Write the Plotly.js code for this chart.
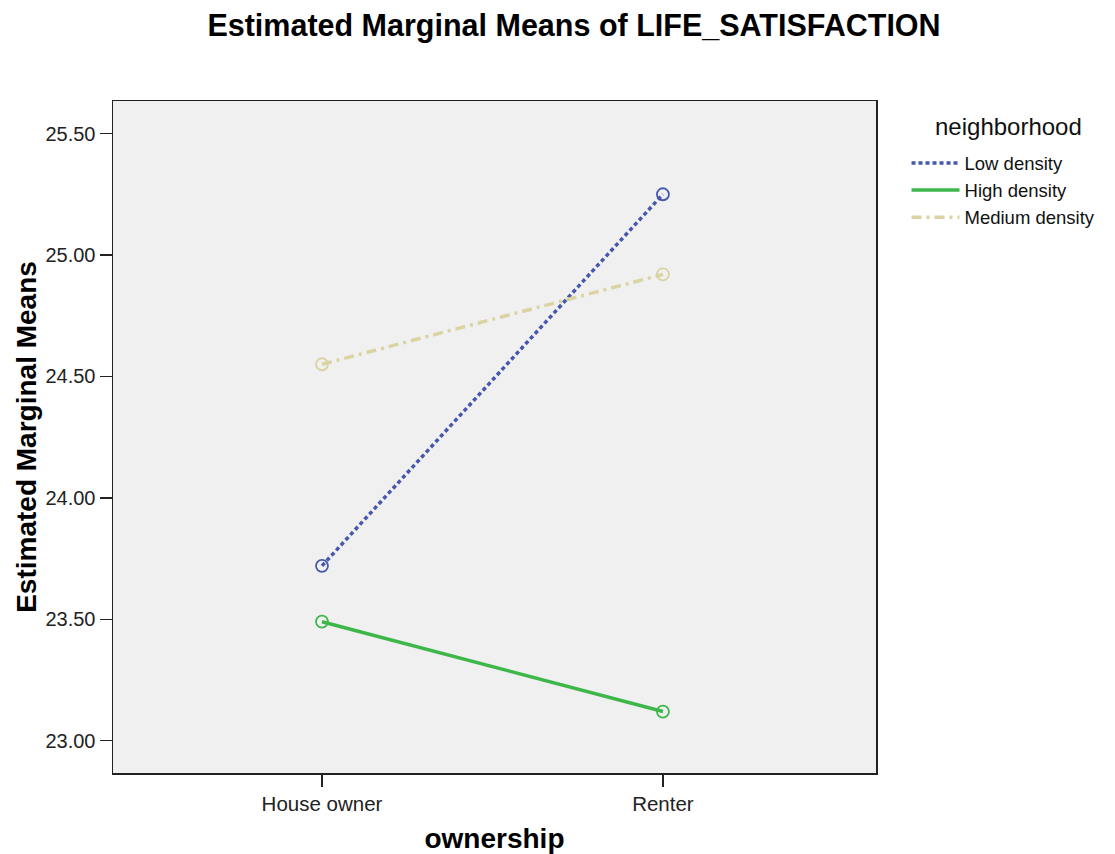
<!DOCTYPE html>
<html>
<head>
<meta charset="utf-8">
<script src="https://cdn.plot.ly/plotly-3.0.1.min.js"></script>
<style>html,body{margin:0;padding:0;background:#fff;}#chart{width:1115px;height:854px;}</style>
</head>
<body>
<div id="chart"></div>
<script>
const categories = ["House owner", "Renter"];
const seriesNames = ["Low density", "High density", "Medium density"];
const legendTitle = "neighborhood";
const lowDensity = [23.72, 25.25];
const highDensity = [23.49, 23.12];
const mediumDensity = [24.55, 24.92];
const yTickVals = [23.0, 23.5, 24.0, 24.5, 25.0, 25.5];
const yTickText = ["23.00", "23.50", "24.00", "24.50", "25.00", "25.50"];

const styles = [
  {color: "#4658ad", dash: "4px,3px", width: 3.5},
  {color: "#3db64a", dash: "solid", width: 3.5},
  {color: "#d9d4a2", dash: "10px,5px,3px,5px", width: 3.5}
];
const values = [lowDensity, highDensity, mediumDensity];

const traces = [];
values.forEach((v, i) => {
  traces.push({
    type: "scatter", mode: "lines",
    x: categories, y: v,
    name: seriesNames[i],
    line: {color: styles[i].color, width: styles[i].width, dash: styles[i].dash}
  });
});
values.forEach((v, i) => {
  traces.push({
    type: "scatter", mode: "markers",
    x: categories, y: v,
    name: seriesNames[i], showlegend: false,
    marker: {symbol: "circle-open", size: 12, color: styles[i].color, line: {width: 1.8}}
  });
});

const layout = {
  width: 1115, height: 854,
  margin: {l: 113, r: 239, t: 101, b: 81},
  paper_bgcolor: "#ffffff",
  plot_bgcolor: "#f0f0f0",
  font: {family: "Liberation Sans, Arial, sans-serif", color: "#222"},
  title: {text: "<b>Estimated Marginal Means of LIFE_SATISFACTION</b>", x: 0.5148, xanchor: "center", y: 0.9707, yanchor: "middle", font: {size: 30.5, color: "#000"}},
  xaxis: {
    type: "category",
    range: [-0.613, 1.625],
    showgrid: false, zeroline: false,
    showline: true, linecolor: "#222", linewidth: 1.5, mirror: true,
    ticks: "outside", ticklen: 12, tickwidth: 1.5, tickcolor: "#222",
    tickfont: {size: 20.5, color: "#222"},
    title: {text: "<b>ownership</b>", font: {size: 28, color: "#000"}, standoff: 15}
  },
  yaxis: {
    range: [22.867, 25.634],
    tickvals: yTickVals, ticktext: yTickText,
    showgrid: false, zeroline: false,
    showline: true, linecolor: "#222", linewidth: 1.5, mirror: true,
    ticks: "outside", ticklen: 12, tickwidth: 1.5, tickcolor: "#222",
    tickfont: {size: 20, color: "#222"},
    title: {text: "<b>Estimated Marginal Means</b>", font: {size: 28, color: "#000"}, standoff: 0}
  },
  annotations: [{
    text: legendTitle, xref: "paper", yref: "paper",
    x: (1008 - 113) / 763, y: 1 - (127 - 101) / 672,
    xanchor: "center", yanchor: "middle", showarrow: false,
    font: {size: 24, color: "#111"}
  }],
  legend: {
    x: 1.04, xanchor: "left", y: 1 - (144.5 - 101) / 672, yanchor: "top",
    font: {size: 18.5, color: "#111"},
    bgcolor: "rgba(0,0,0,0)",
    tracegroupgap: 0,
    itemwidth: 48
  },
  showlegend: true
};

Plotly.newPlot("chart", traces, layout, {displayModeBar: false, staticPlot: true});
</script>
</body>
</html>
